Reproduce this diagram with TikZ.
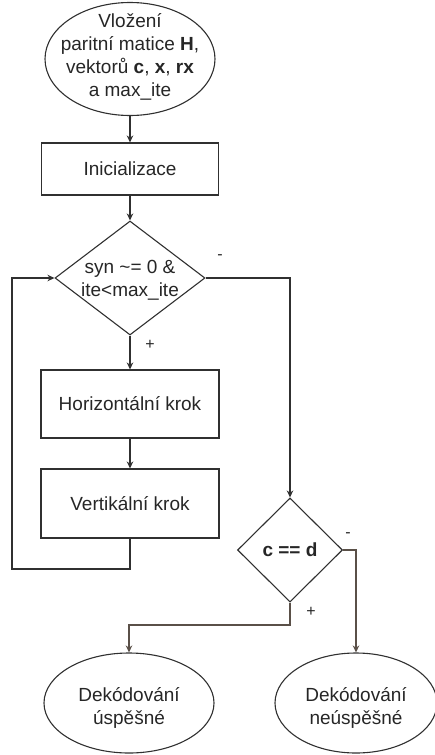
\documentclass[tikz,border=0pt]{standalone}
\usepackage{fontspec}
\setmainfont{Liberation Sans}
\usetikzlibrary{shapes.geometric,arrows.meta}
\definecolor{lc}{HTML}{303030}
\definecolor{lc2}{HTML}{5A5048}
\definecolor{txt}{HTML}{262626}
\begin{document}
\begin{tikzpicture}[x=1pt,y=-1pt,
  every node/.style={text=txt, font=\fontsize{19}{23}\selectfont, align=center, inner sep=0pt},
  ln/.style={draw=lc, line width=1.1pt},
  ar/.style={ln, -{Stealth[length=7pt,width=6.5pt]}},
  term/.style={ellipse, draw=lc, line width=1.1pt},
  proc/.style={rectangle, draw=lc, line width=1.1pt},
  dec/.style={diamond, draw=lc, line width=1.1pt},
  lbl/.style={font=\fontsize{16}{18}\selectfont}]
\useasboundingbox (0,0) rectangle (434,755);
% shapes
\node[term, minimum width=170pt, minimum height=113pt] (e1) at (130,59) {};
\node (e1t) at (130,57) {Vložení\\paritní matice \textbf{H},\\vektorů \textbf{c}, \textbf{x}, \textbf{rx}\\a max\_ite};
\node[proc, minimum width=177pt, minimum height=52pt] (init) at (130,169) {Inicializace};
\node[dec, minimum width=150pt, minimum height=114pt] (d1) at (130,278) {};
\node (d1t) at (130,280) {syn \textasciitilde= 0 \&\\ite<max\_ite};
\node[proc, minimum width=178pt, minimum height=68pt] (hor) at (130,404) {Horizontální krok};
\node[proc, minimum width=178pt, minimum height=69pt] (ver) at (130,503.5) {Vertikální krok};
\node[dec, minimum width=105pt, minimum height=104pt] (d2) at (290,550) {};
\node (d2t) at (290,550) {\textbf{c == d}};
\node[term, minimum width=170pt, minimum height=100pt] (e2) at (129,703) {};
\node (e2t) at (129,708) {Dekódování\\úspěšné};
\node[term, minimum width=162pt, minimum height=100pt] (e3) at (356,703) {};
\node (e3t) at (356,708) {Dekódování\\neúspěšné};
% helper points
\coordinate (l1) at (12,569);
\coordinate (l2) at (12,278);
\coordinate (j) at (290,625);
% connectors
\draw[ar] (e1) -- (init);
\draw[ar] (init) -- (d1);
\draw[ar] (d1) -- (hor);
\draw[ar] (hor) -- (ver);
\draw[ar] (ver.south) |- (l1) -- (l2) -- (d1.west);
\draw[ar] (d1.east) -| (d2.north);
\draw[ar, draw=lc2] (d2.east) -| (e3.north);
\draw[ar, draw=lc2] (d2.south) -- (j) -| (e2.north);
% labels
\node[lbl] (m1) at (220,257) {-};
\node[lbl] (p1) at (150,345) {+};
\node[lbl] (m2) at (348,535) {-};
\node[lbl] (p2) at (311,612) {+};
\end{tikzpicture}
\end{document}
